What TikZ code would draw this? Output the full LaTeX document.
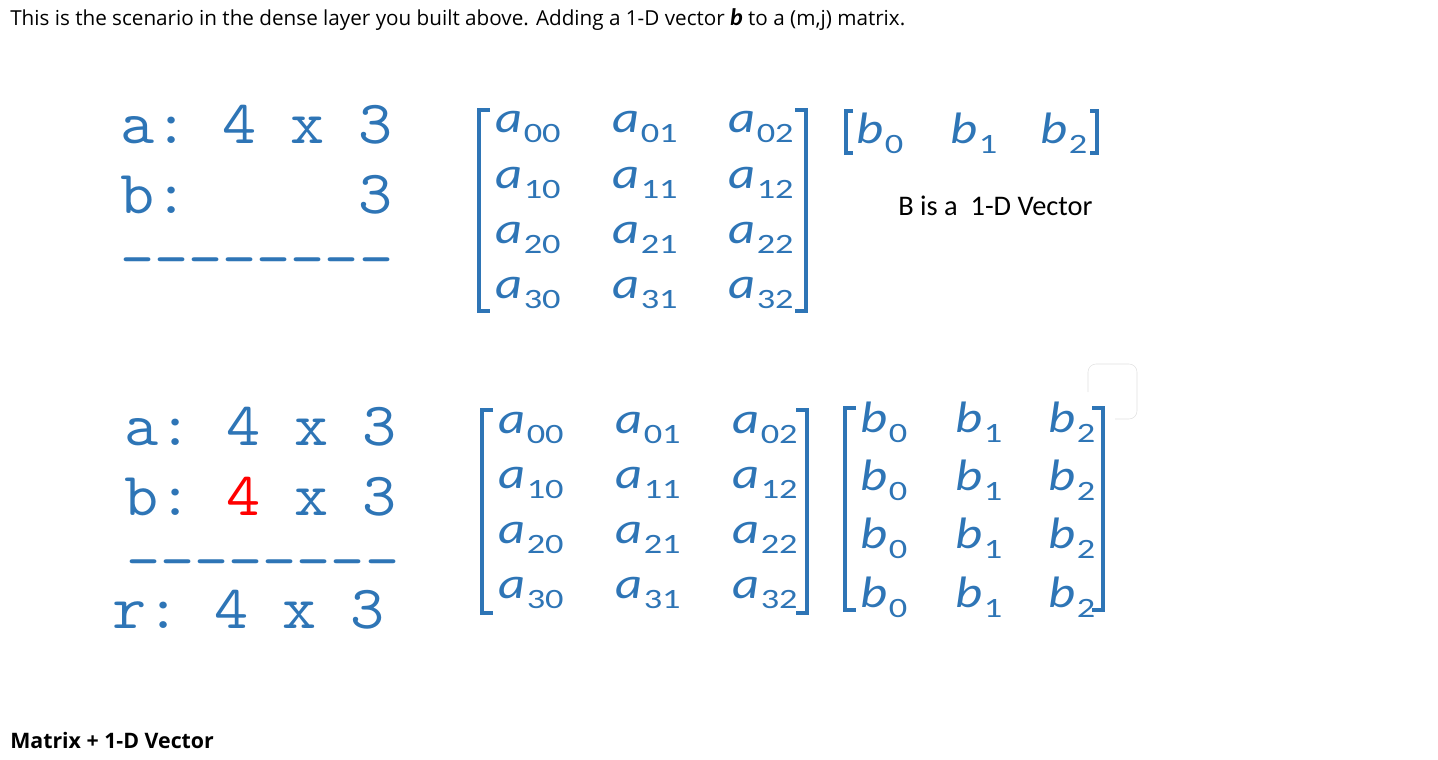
\documentclass[tikz,border=0pt]{standalone}
\usepackage{fontspec}
\usepackage{xcolor}
\usetikzlibrary{positioning}
\setmainfont{Open Sans}
\setmonofont{Latin Modern Mono}[FakeStretch=1.08]
\newfontfamily\calib{Carlito}[Numbers=Lining]
\newfontfamily\entfont{Carlito}[FakeStretch=1.2, Numbers=Lining]
\newfontfamily\idxfont{Carlito}[FakeStretch=1.3, Numbers=Lining]
\definecolor{matblue}{HTML}{2E75B6}
\definecolor{dimred}{HTML}{FF0000}
% one matrix entry: italic letter with a lowered index
\newcommand{\ent}[2]{{\entfont\fontsize{33}{33}\selectfont\itshape #1}\kern1pt\raisebox{-7.5pt}{\idxfont\fontsize{21}{21}\selectfont #2}}

\begin{document}
\begin{tikzpicture}[x=0.75pt, y=-0.75pt,
  shapeln/.style={anchor=base west, inner sep=0pt, text=matblue, font=\ttfamily\frenchspacing\fontsize{46}{46}\selectfont},
  entry/.style={anchor=base west, inner sep=0pt, text=matblue},
  brack/.style={draw=matblue, line width=3pt},
  lab/.style={anchor=base west, inner sep=0pt}
]
\useasboundingbox (0,0) rectangle (1438,760);
\node[lab, font=\fontsize{15.5}{18}\selectfont] (intro) at (10,26) {This is the scenario in the dense layer you built above. Adding a 1-D vector {\calib\bfseries\itshape\fontsize{18}{18}\selectfont b} to a (m,j) matrix.};

% shapes before broadcasting
\node[shapeln] (sa1) at (120,143) {a:\ 4\ x\ 3};
\node[shapeln] (sb1) at (120,213) {b:\ \ \ \ \ 3};
\node[shapeln] (rule1) at (120,278) {--------};
\foreach \r/\y in {0/132,1/188,2/243,3/298} {
  \foreach \c/\x in {0/495,1/612,2/728} {
    \node[entry] (at-\r\c) at (\x,\y) {\ent{a}{\r\c}};
  }
}
\foreach \c/\x in {0/856,1/950,2/1040} {
  \node[entry] (bt-\c) at (\x,143) {\ent{b}{\c}};
}
\node[lab, font=\calib\fontsize{21.3}{24}\selectfont] (bnote) at (898,215) {B is a\ \ 1-D Vector};

% shapes after broadcasting
\node[shapeln] (sa2) at (124,445) {a:\ 4\ x\ 3};
\node[shapeln] (sb2) at (124,515) {b:\ \textcolor{dimred}{4}\ x\ 3};
\node[shapeln] (rule2) at (126,580) {--------};
\node[shapeln] (sr2) at (112,628) {r:\ 4\ x\ 3};
\foreach \r/\y in {0/433,1/488,2/543,3/598} {
  \foreach \c/\x in {0/498,1/615,2/732} {
    \node[entry] (ab-\r\c) at (\x,\y) {\ent{a}{\r\c}};
  }
}
\foreach \r/\y in {0/432,1/490,2/548,3/607} {
  \foreach \c/\x in {0/860,1/955,2/1048} {
    \node[entry] (bb-\r\c) at (\x,\y) {\ent{b}{\c}};
  }
}

% brackets
\foreach \xl/\xr/\yt/\yb/\arm in {479/806/110/311/11, 482/807/410/613/11, 846/1097/111/153/7, 845/1103/408/610/11} {
  \draw[brack] (\xl+\arm,\yt) -| (\xl,\yb) -- (\xl+\arm,\yb);
  \draw[brack] (\xr-\arm,\yt) -| (\xr,\yb) -- (\xr-\arm,\yb);
}
\draw[black!12, rounded corners=6] (1088,392) -- (1088,364) -- (1137,364) -- (1137,419) -- (1115,419);

\node[lab, font=\bfseries\fontsize{16}{19}\selectfont] (cap) at (10,748) {Matrix + 1-D Vector};
\end{tikzpicture}
\end{document}
